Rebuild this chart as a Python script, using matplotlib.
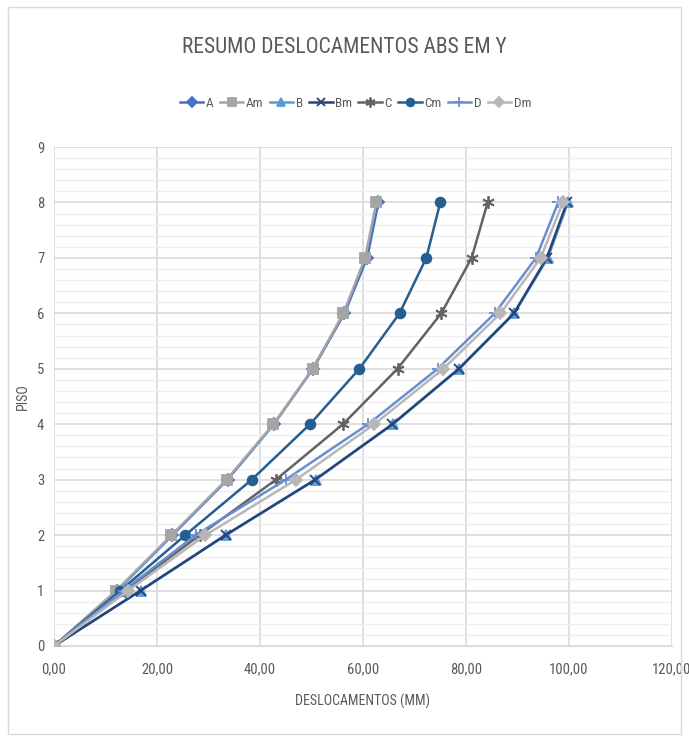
import matplotlib
matplotlib.use("Agg")
import matplotlib.pyplot as plt
from matplotlib import font_manager as fm
from matplotlib.ticker import MultipleLocator, FuncFormatter
from matplotlib.patches import Rectangle

floors = [0, 1, 2, 3, 4, 5, 6, 7, 8]
A  = [0, 12.3, 23.0, 33.7, 42.7, 50.3, 56.4, 60.8, 63.0]
Am = [0, 12.1, 22.8, 33.5, 42.6, 50.2, 56.2, 60.4, 62.6]
B  = [0, 16.9, 33.4, 50.8, 65.8, 78.7, 89.4, 95.9, 99.8]
Bm = [0, 16.8, 33.3, 50.7, 65.7, 78.6, 89.3, 95.7, 99.6]
C  = [0, 13.8, 28.3, 43.1, 56.1, 66.7, 75.2, 81.1, 84.2]
Cm = [0, 12.9, 25.5, 38.4, 49.7, 59.3, 67.1, 72.3, 75.0]
D  = [0, 13.5, 27.5, 45.0, 61.0, 74.5, 85.6, 93.6, 97.9]
Dm = [0, 14.4, 29.4, 47.0, 62.2, 75.6, 86.7, 94.5, 98.8]

series = [
    ("A", A, "#4472C4", "D", 6),
    ("Am", Am, "#A5A5A5", "s", 7),
    ("B", B, "#5B9BD5", "^", 7),
    ("Bm", Bm, "#264478", "x", 7),
    ("C", C, "#636363", (6, 2, 0), 9),
    ("Cm", Cm, "#255E91", "o", 7),
    ("D", D, "#698ED0", "+", 9),
    ("Dm", Dm, "#B7B7B7", "D", 6),
]

names = {f.name for f in fm.fontManager.ttflist}
narrow = [n for n in ["Liberation Sans Narrow", "Roboto Condensed", "Open Sans Condensed",
                      "DejaVu Sans Condensed"] if n in names]
fam = (narrow[:1] or []) + ["DejaVu Sans"]
plt.rcParams["font.family"] = fam
plt.rcParams["font.stretch"] = "condensed"

fig = plt.figure(figsize=(6.89, 7.38), dpi=100)
fig.patches.append(Rectangle((0.012, 0.006), 0.976, 0.985, transform=fig.transFigure,
                             fill=False, edgecolor="#d9d9d9", lw=1))
ax = fig.add_axes([0.0784, 0.1247, 0.8969, 0.6761])

for name, vals, col, mk, ms in series:
    ax.plot(vals, floors, color=col, lw=1.8, marker=mk, markersize=ms,
            markeredgecolor=col, markerfacecolor=col, markeredgewidth=1.3,
            label=name, zorder=3)

ax.set_xlim(0, 120)
ax.set_ylim(0, 9)
ax.xaxis.set_major_locator(MultipleLocator(20))
ax.yaxis.set_major_locator(MultipleLocator(1))
ax.yaxis.set_minor_locator(MultipleLocator(0.2))
ax.xaxis.set_major_formatter(FuncFormatter(lambda v, p: f"{v:.2f}".replace(".", ",")))
ax.grid(True, which="major", color="#d9d9d9", lw=1.2)
ax.grid(True, which="minor", axis="y", color="#eeeeee", lw=1)
ax.set_axisbelow(True)
for s in ["top", "right", "left"]:
    ax.spines[s].set_visible(False)
ax.spines["bottom"].set_color("#d9d9d9")
ax.tick_params(which="both", length=0, colors="#595959", labelsize=10.5)
ax.tick_params(axis="x", pad=12)
ax.tick_params(axis="y", pad=7)

ax.set_xlabel("DESLOCAMENTOS (MM)", fontsize=10, color="#595959", labelpad=12)
ax.set_ylabel("PISO", fontsize=10, color="#595959", labelpad=5)
fig.text(0.5, 0.936, "RESUMO DESLOCAMENTOS ABS EM Y", ha="center", va="center",
         fontsize=15.5, color="#595959")
ax.legend(loc="center", bbox_to_anchor=(0.488, 1.088), ncol=8, frameon=False,
          fontsize=9.5, labelcolor="#595959", handlelength=1.8, handletextpad=0.2,
          columnspacing=0.45, markerscale=0.8)

fig.savefig("out.png", dpi=100)
